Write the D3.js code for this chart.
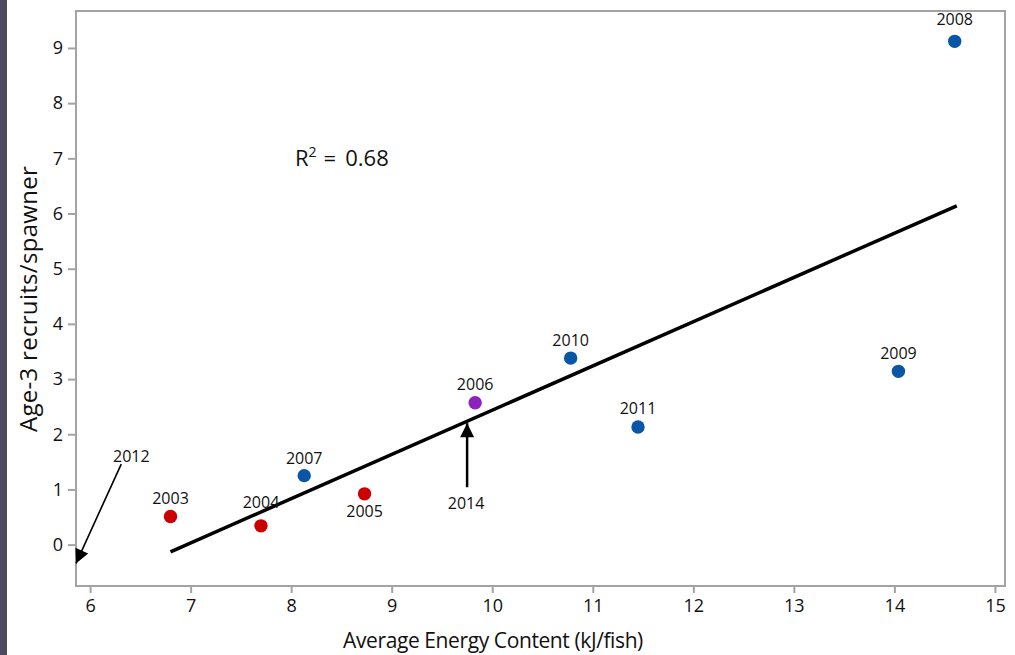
<!DOCTYPE html>
<html>
<head>
<meta charset="utf-8">
<script src="https://cdn.jsdelivr.net/npm/d3@7"></script>
<style>
  body { margin: 0; background: #fff; }
  svg { display: block; font-family: "Open Sans", sans-serif; }
</style>
</head>
<body>
<svg id="chart" width="1015" height="655"></svg>
<script>
// data
const years = ["2003", "2004", "2005", "2006", "2007", "2008", "2009", "2010", "2011"];
const energy = [6.8, 7.7, 8.73, 9.83, 8.13, 14.6, 14.04, 10.78, 11.45];
const recruits = [0.51, 0.34, 0.92, 2.57, 1.25, 9.12, 3.14, 3.38, 2.13];
const groups = ["red", "red", "red", "purple", "blue", "blue", "blue", "blue", "blue"];

// fitted line end points
const fitX = [6.8, 14.62];
const fitY = [-0.13, 6.14];

// annotated years with arrows
const arrowYears = ["2012", "2014"];
const arrowFrom = [[6.31, 1.46], [9.75, 1.04]];
const arrowTo = [[5.86, -0.34], [9.75, 2.2]];
const arrowLabel = [[6.41, 1.5], [9.74, 0.64]];

const xTicks = [6, 7, 8, 9, 10, 11, 12, 13, 14, 15];
const yTicks = [0, 1, 2, 3, 4, 5, 6, 7, 8, 9];
const rSquared = "0.68";

const colors = { red: "#cc0000", blue: "#0a56a6", purple: "#8d22bf" };
// vertical nudge of each year label from its dot, in px
const labelDy = [-12, -18, 23, -13, -12, -16, -12, -12, -13];

const svg = d3.select("#chart");

// dark strip on the left edge
svg.append("rect").attr("x", 0).attr("y", 0).attr("width", 7).attr("height", 655).attr("fill", "#4b4a63");

const plotL = 76, plotR = 1005, plotT = 11, plotB = 586;

const x = d3.scaleLinear().domain([5.86, 15.1]).range([plotL, plotR]);
const y = d3.scaleLinear().domain([-0.75, 9.67]).range([plotB, plotT]);

// frame
svg.append("rect")
  .attr("x", plotL).attr("y", plotT)
  .attr("width", plotR - plotL).attr("height", plotB - plotT)
  .attr("fill", "none").attr("stroke", "#a3a3a3").attr("stroke-width", 2);

// axes
const xAxis = svg.append("g")
  .attr("transform", `translate(0,${plotB})`)
  .call(d3.axisBottom(x).tickValues(xTicks).tickSize(7).tickPadding(6).tickFormat(d3.format("d")));
const yAxis = svg.append("g")
  .attr("transform", `translate(${plotL},0)`)
  .call(d3.axisLeft(y).tickValues(yTicks).tickSize(8).tickPadding(5).tickFormat(d3.format("d")));

[xAxis, yAxis].forEach(function (g) {
  g.select(".domain").remove();
  g.selectAll(".tick line").attr("stroke", "#a3a3a3").attr("stroke-width", 2);
  g.selectAll(".tick text")
    .attr("fill", "#111")
    .style("font-size", "18px")
    .style("font-family", "'Open Sans', sans-serif");
});

// axis titles
svg.append("text")
  .attr("x", 493).attr("y", 648)
  .attr("text-anchor", "middle")
  .style("font-size", "21px")
  .style("letter-spacing", "-0.4px")
  .attr("fill", "#111")
  .text("Average Energy Content (kJ/fish)");

svg.append("text")
  .attr("transform", "translate(37,299) rotate(-90)")
  .attr("text-anchor", "middle")
  .style("font-size", "24px")
  .style("letter-spacing", "0.3px")
  .attr("fill", "#111")
  .text("Age-3 recruits/spawner");

// regression line
svg.append("line")
  .attr("x1", x(fitX[0])).attr("y1", y(fitY[0]))
  .attr("x2", x(fitX[1])).attr("y2", y(fitY[1]))
  .attr("stroke", "#000").attr("stroke-width", 3.5);

// arrow heads
const defs = svg.append("defs");
defs.append("marker")
  .attr("id", "head")
  .attr("viewBox", "0 0 10 10")
  .attr("refX", 10).attr("refY", 5)
  .attr("markerWidth", 18).attr("markerHeight", 14)
  .attr("markerUnits", "userSpaceOnUse")
  .attr("orient", "auto")
  .append("path").attr("d", "M0,0 L10,5 L0,10 Z").attr("fill", "#000");

arrowYears.forEach(function (yr, i) {
  svg.append("line")
    .attr("x1", x(arrowFrom[i][0])).attr("y1", y(arrowFrom[i][1]))
    .attr("x2", x(arrowTo[i][0])).attr("y2", y(arrowTo[i][1]))
    .attr("stroke", "#000").attr("stroke-width", i === 0 ? 1.6 : 2.5)
    .attr("marker-end", "url(#head)");
  svg.append("text")
    .attr("x", x(arrowLabel[i][0])).attr("y", y(arrowLabel[i][1]))
    .attr("text-anchor", "middle")
    .style("font-size", "16px")
    .attr("fill", "#111")
    .text(yr);
});

// points
svg.selectAll("circle.pt")
  .data(years)
  .join("circle")
  .attr("class", "pt")
  .attr("cx", (d, i) => x(energy[i]))
  .attr("cy", (d, i) => y(recruits[i]))
  .attr("r", 6.7)
  .attr("fill", (d, i) => colors[groups[i]]);

svg.selectAll("text.lbl")
  .data(years)
  .join("text")
  .attr("class", "lbl")
  .attr("x", (d, i) => x(energy[i]))
  .attr("y", (d, i) => y(recruits[i]) + labelDy[i])
  .attr("text-anchor", "middle")
  .style("font-size", "16px")
  .attr("fill", "#111")
  .text(d => d);

// R squared note
const r2 = svg.append("text")
  .attr("x", 295).attr("y", 166)
  .style("font-size", "22px")
  .attr("fill", "#111");
r2.append("tspan").text("R");
r2.append("tspan").attr("dy", -9).style("font-size", "14px").text("2");
r2.append("tspan").attr("dy", 9).attr("dx", 7).text("=");
r2.append("tspan").attr("dx", 9).text(rSquared);
</script>
</body>
</html>
